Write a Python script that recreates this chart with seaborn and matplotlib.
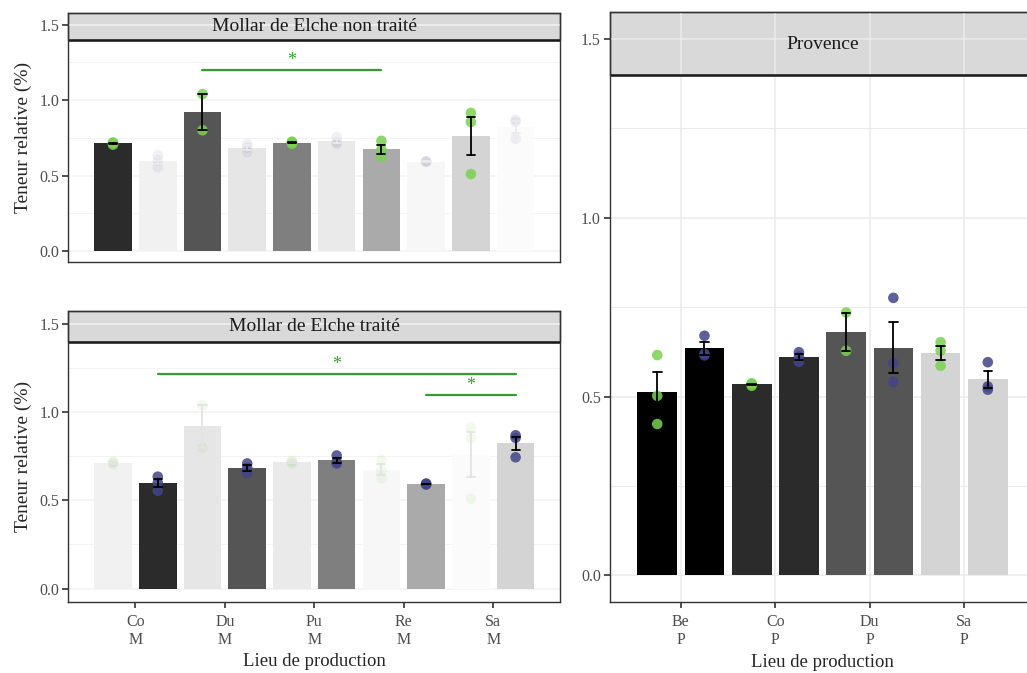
import pandas as pd
import matplotlib
matplotlib.use("Agg")
import matplotlib.pyplot as plt
from matplotlib.patches import Rectangle
from matplotlib.ticker import MultipleLocator
import seaborn as sns

# --- data ---
mollar_sites = ["Co", "Du", "Pu", "Re", "Sa"]
mollar_code = "M"
provence_sites = ["Be", "Co", "Du", "Sa"]
provence_code = "P"

# replicate values (%) per site: non traité (green) / traité (blue)
mollar_nt = [[0.705, 0.715, 0.72], [1.04, 0.80], [0.71, 0.72, 0.725],
             [0.73, 0.67, 0.625], [0.915, 0.855, 0.51]]
mollar_t = [[0.635, 0.60, 0.555], [0.71, 0.685, 0.655], [0.755, 0.72, 0.71],
            [0.59, 0.593, 0.596], [0.87, 0.855, 0.745]]
provence_nt = [[0.616, 0.502, 0.423], [0.53, 0.535, 0.537], [0.735, 0.628],
               [0.652, 0.628, 0.586]]
provence_t = [[0.67, 0.62, 0.615], [0.624, 0.612, 0.597], [0.776, 0.593, 0.541],
              [0.596, 0.528, 0.519]]

# significance bars: (site1, treat1, site2, treat2, height)
sig_nt = [("Du", "nt", "Re", "nt", 1.20)]
sig_t = [("Co", "t", "Sa", "t", 1.22), ("Re", "t", "Sa", "t", 1.10)]

site_grey = {"Be": "#000000", "Co": "#2B2B2B", "Du": "#555555", "Pu": "#7F7F7F",
             "Re": "#AAAAAA", "Sa": "#D4D4D4"}
site_faded = {"Co": "#F1F1F1", "Du": "#E6E6E6", "Pu": "#EAEAEA", "Re": "#F7F7F7",
              "Sa": "#FBFBFB"}
point_colors = {"nt": "#7AD151", "t": "#414487"}
sig_color = "#33A02C"


def to_long(sites, nt, t):
    rows = []
    for i, s in enumerate(sites):
        for trt, reps in (("nt", nt[i]), ("t", t[i])):
            for v in reps:
                rows.append({"site": s, "treat": trt, "slot": f"{s}_{trt}", "value": v})
    return pd.DataFrame(rows)


mollar = to_long(mollar_sites, mollar_nt, mollar_t)
provence = to_long(provence_sites, provence_nt, provence_t)
mollar_order = [f"{s}_{t}" for s in mollar_sites for t in ("nt", "t")]
provence_order = [f"{s}_{t}" for s in provence_sites for t in ("nt", "t")]

sns.set_style("white")
plt.rcParams["font.family"] = ["Liberation Serif", "DejaVu Serif"]
plt.rcParams["axes.unicode_minus"] = False

fig = plt.figure(figsize=(10.27, 6.73), dpi=100)
ax_top = fig.add_axes([0.0665, 0.6102, 0.4791, 0.3700])
ax_bot = fig.add_axes([0.0665, 0.1059, 0.4791, 0.4319])
ax_pro = fig.add_axes([0.5940, 0.1055, 0.4138, 0.8762])


def draw_layer(ax, d, order, bar_pal, err_color, pt_alpha):
    sns.barplot(data=d, x="slot", y="value", order=order, hue="slot", palette=bar_pal,
                errorbar="se", capsize=0.18, width=0.84, saturation=1, linewidth=0,
                err_kws={"color": err_color, "linewidth": 1.3, "zorder": 4},
                legend=False, ax=ax)
    sns.stripplot(data=d, x="slot", y="value", order=order, hue="treat",
                  palette=point_colors, jitter=False, size=7.6, alpha=pt_alpha,
                  linewidth=0, legend=False, ax=ax, zorder=3)


def style_panel(ax, title, sites, code, n_slots, show_x, grid_color, vgrid):
    ax.set_ylim(-0.075, 1.575)
    ax.set_xlim(-1.0, n_slots)
    ax.set_yticks([0.0, 0.5, 1.0, 1.5])
    ax.set_yticklabels(["0.0", "0.5", "1.0", "1.5"])
    ax.yaxis.set_minor_locator(MultipleLocator(0.25))
    ax.set_xticks([2 * i + 0.5 for i in range(len(sites))])
    ax.set_axisbelow(True)
    ax.grid(True, which="major", axis="y", color=grid_color, linewidth=1.1)
    if vgrid:
        ax.grid(True, which="major", axis="x", color=grid_color, linewidth=1.1)
    else:
        ax.grid(False, axis="x")
    ax.grid(True, which="minor", axis="y", color=grid_color, linewidth=0.7)
    ax.tick_params(which="minor", length=0, left=False, bottom=False)
    ax.tick_params(axis="both", which="major", colors="#333333", labelcolor="#4D4D4D",
                   labelsize=11.5, length=4.5, width=1.2, pad=2, left=True, bottom=True)
    if show_x:
        ax.set_xticklabels([f"{s}\n{code}" for s in sites], linespacing=1.2)
        ax.tick_params(axis="x", labelsize=11.5, pad=4)
        ax.set_xlabel("Lieu de production", fontsize=13.5, labelpad=4)
    else:
        ax.set_xticklabels([])
        ax.tick_params(axis="x", length=0)
        ax.set_xlabel("")
    ax.set_ylabel("")
    for sp in ax.spines.values():
        sp.set_visible(True)
        sp.set_color("#333333")
        sp.set_linewidth(1.0)
    # facet strip drawn across the top of the panel
    tr = ax.get_yaxis_transform()
    ax.add_patch(Rectangle((0, 1.40), 1, 0.175, transform=tr, facecolor="#D9D9D9",
                           edgecolor="#333333", linewidth=1.0, zorder=0.4, clip_on=False))
    ax.plot([0, 1], [1.40, 1.40], transform=tr, color="#1A1A1A", linewidth=1.8, zorder=2)
    ax.text(0.5, 1.485, title, transform=tr, ha="center", va="center", fontsize=14,
            color="#1A1A1A", zorder=5)


def draw_sig(ax, sigs):
    for s1, t1, s2, t2, h in sigs:
        x1 = mollar_order.index(f"{s1}_{t1}")
        x2 = mollar_order.index(f"{s2}_{t2}")
        ax.plot([x1, x2], [h, h], color=sig_color, linewidth=1.6, zorder=5)
        ax.text((x1 + x2) / 2, h + 0.005, "*", ha="center", va="bottom", fontsize=13,
                color=sig_color, zorder=5)


# top-left: non traité highlighted, traité faded
draw_layer(ax_top, mollar[mollar.treat == "t"], mollar_order,
           {f"{s}_t": site_faded[s] for s in mollar_sites}, "#EBEBEB", 0.08)
draw_layer(ax_top, mollar[mollar.treat == "nt"], mollar_order,
           {f"{s}_nt": site_grey[s] for s in mollar_sites}, "black", 0.85)
style_panel(ax_top, "Mollar de Elche non traité", mollar_sites, mollar_code, 10, False,
            "#F3F3F3", False)
draw_sig(ax_top, sig_nt)

# bottom-left: traité highlighted, non traité faded
draw_layer(ax_bot, mollar[mollar.treat == "nt"], mollar_order,
           {f"{s}_nt": site_faded[s] for s in mollar_sites}, "#E4E4E4", 0.1)
draw_layer(ax_bot, mollar[mollar.treat == "t"], mollar_order,
           {f"{s}_t": site_grey[s] for s in mollar_sites}, "black", 0.85)
style_panel(ax_bot, "Mollar de Elche traité", mollar_sites, mollar_code, 10, True,
            "#F3F3F3", False)
draw_sig(ax_bot, sig_t)

# right: Provence
draw_layer(ax_pro, provence, provence_order,
           {k: site_grey[k.split("_")[0]] for k in provence_order}, "black", 0.85)
style_panel(ax_pro, "Provence", provence_sites, provence_code, 8, True, "#EBEBEB", True)

for ax in (ax_top, ax_bot):
    ax.set_ylabel("Teneur relative (%)", fontsize=14, labelpad=5)

fig.savefig("out.png", dpi=100)
